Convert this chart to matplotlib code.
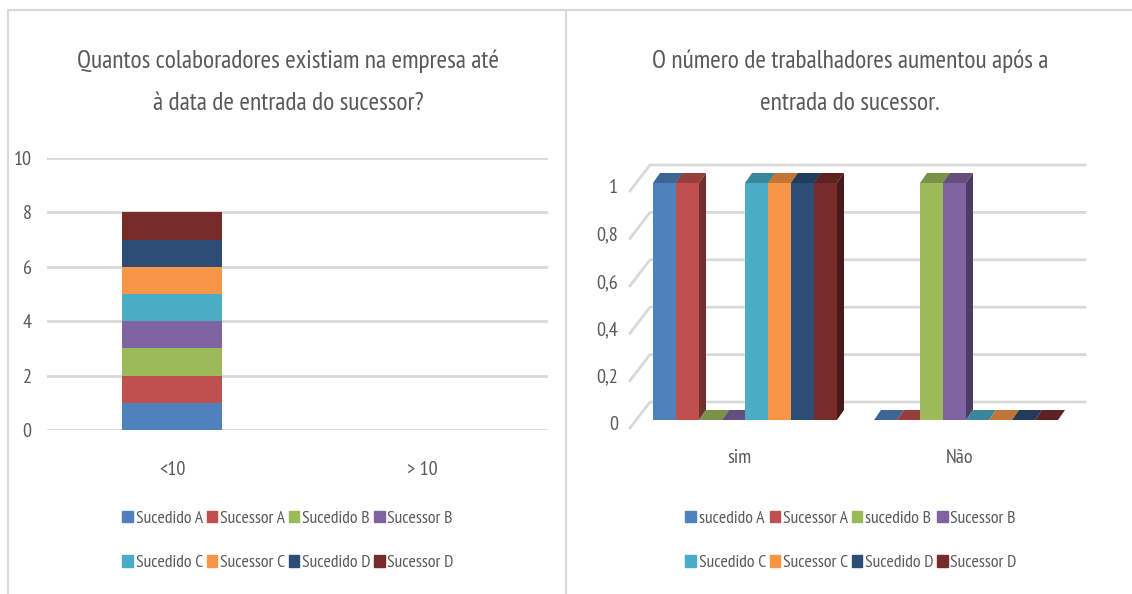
import matplotlib
matplotlib.use('Agg')
import matplotlib.pyplot as plt
from matplotlib.patches import Polygon, Rectangle, Patch
from matplotlib.lines import Line2D
import numpy as np

plt.rcParams['font.family'] = ['PT Sans Narrow', 'DejaVu Sans']

# data
left_title = 'Quantos colaboradores existiam na empresa até\nà data de entrada do sucessor?'
left_cats = ['<10', '> 10']
left_series = ['Sucedido A', 'Sucessor A', 'Sucedido B', 'Sucessor B',
               'Sucedido C', 'Sucessor C', 'Sucedido D', 'Sucessor D']
left_values = [[1, 0], [1, 0], [1, 0], [1, 0], [1, 0], [1, 0], [1, 0], [1, 0]]

right_title = 'O número de trabalhadores aumentou após a\nentrada do sucessor.'
right_cats = ['sim', 'Não']
right_series = ['sucedido A', 'Sucessor A', 'sucedido B', 'Sucessor B',
                'Sucedido C', 'Sucessor C', 'Sucedido D', 'Sucessor D']
right_values = [[1, 0], [1, 0], [0, 1], [0, 1], [1, 0], [1, 0], [1, 0], [1, 0]]

colors = ['#4F81BD', '#C0504D', '#9BBB59', '#8064A2',
          '#4BACC6', '#F79646', '#2C4D75', '#772C2A']

TXT = '#595959'
GRID = '#D9D9D9'
W, H = 1132, 594

fig = plt.figure(figsize=(W / 100, H / 100), dpi=100)


def fx(px):
    return px / W


def fy(py):
    return 1 - py / H


def legend_at(names, cx, cy):
    # legend fills column by column, reorder so it reads row by row
    handles = [Patch(color=c, label=n) for n, c in zip(names, colors)]
    order = [0, 4, 1, 5, 2, 6, 3, 7]
    fig.legend(handles=[handles[i] for i in order],
               loc='center', bbox_to_anchor=(fx(cx), fy(cy)), ncol=4, frameon=False,
               fontsize=12.8, labelcolor=TXT, handlelength=0.6, handleheight=0.6,
               handletextpad=0.15, columnspacing=0.2, labelspacing=1.6)


# panel borders
fig.add_artist(Line2D([fx(8), 1], [fy(10), fy(10)], color=GRID, lw=1.5))
fig.add_artist(Line2D([fx(8), fx(8)], [fy(10), 0], color=GRID, lw=1.5))
fig.add_artist(Line2D([fx(566), fx(566)], [fy(10), 0], color=GRID, lw=1.5))

# ---------------- left chart ----------------
ax1 = fig.add_axes([fx(47), fy(430), fx(548 - 47), (430 - 158) / H])
x = np.arange(len(left_cats))
bottom = np.zeros(len(left_cats))
for name, vals, c in zip(left_series, left_values, colors):
    ax1.bar(x, vals, 0.4, bottom=bottom, color=c, label=name,
            linewidth=0, zorder=3)
    bottom += np.array(vals)
ax1.set_xlim(-0.5, 1.5)
ax1.set_ylim(0, 10)
ax1.set_yticks(range(0, 11, 2))
ax1.set_xticks(x)
ax1.set_xticklabels(left_cats)
for s in ax1.spines.values():
    s.set_visible(False)
ax1.yaxis.grid(True, color=GRID, lw=2)
ax1.set_axisbelow(True)
ax1.tick_params(length=0, colors=TXT, labelsize=14.5)
ax1.tick_params(axis='y', pad=11)
ax1.tick_params(axis='x', pad=22)
fig.text(fx(288), fy(82), left_title, ha='center', va='center',
         fontsize=18.3, color=TXT, linespacing=2.05)
legend_at(left_series, 288, 541)

# ---------------- right chart (pseudo 3D) ----------------
ax_l, ax_r, ax_t, ax_b = 630, 1085, 160, 430
ax2 = fig.add_axes([fx(ax_l), fy(ax_b), fx(ax_r - ax_l), (ax_b - ax_t) / H])
sx = 221.0   # px per category unit
sy = 237.0   # px per value unit
x0_px = 745  # centre of first category
xmin = -(x0_px - ax_l) / sx
xmax = (ax_r - x0_px) / sx
ymin = -(ax_b - 420) / sy
ymax = (420 - ax_t) / sy
ax2.set_xlim(xmin, xmax)
ax2.set_ylim(ymin, ymax)
ax2.axis('off')


def off(px, py):
    return px / sx, py / sy


# back gridlines
gfx, gfy = off(-6, -8)
gbx, gby = off(14, 18)
ticks = [0, 0.2, 0.4, 0.6, 0.8, 1]
for v in ticks:
    ax2.plot([xmin, xmin + off(20, 0)[0], xmax], [v + gfy, v + gby, v + gby],
             color=GRID, lw=2, clip_on=False, zorder=1)
    lab = ('%g' % v).replace('.', ',')
    ax2.text(xmin - off(12, 0)[0], v + gfy + off(0, 3)[1], lab, ha='right', va='center',
             fontsize=14.5, color=TXT)
for i, cat in enumerate(right_cats):
    ax2.text(i + gfx, ymin - off(0, 28)[1], cat, ha='center', va='center',
             fontsize=14.5, color=TXT)


def shade(c, f):
    r, g, b = matplotlib.colors.to_rgb(c)
    return (r * f, g * f, b * f)


bw = 23 / sx
ddx, ddy = off(7, 10)
n = len(right_series)
for ci in range(len(right_cats)):
    for si in range(n):
        v = right_values[si][ci]
        c = colors[si]
        x0 = ci + (si - n / 2) * bw
        z = 3 + ci * 20 + si
        if v > 0:
            ax2.add_patch(Rectangle((x0, 0), bw, v, facecolor=c, edgecolor='none', zorder=z))
        ax2.add_patch(Polygon([(x0, v), (x0 + bw, v), (x0 + bw + ddx, v + ddy), (x0 + ddx, v + ddy)],
                              closed=True, facecolor=shade(c, 0.78), edgecolor='none', zorder=z))
        if v > 0:
            ax2.add_patch(Polygon([(x0 + bw, 0), (x0 + bw + ddx, ddy), (x0 + bw + ddx, v + ddy), (x0 + bw, v)],
                                  closed=True, facecolor=shade(c, 0.6), edgecolor='none', zorder=z))

fig.text(fx(850), fy(82), right_title, ha='center', va='center',
         fontsize=18.3, color=TXT, linespacing=2.05)
legend_at(right_series, 851, 541)

fig.savefig('out.png', dpi=100)
